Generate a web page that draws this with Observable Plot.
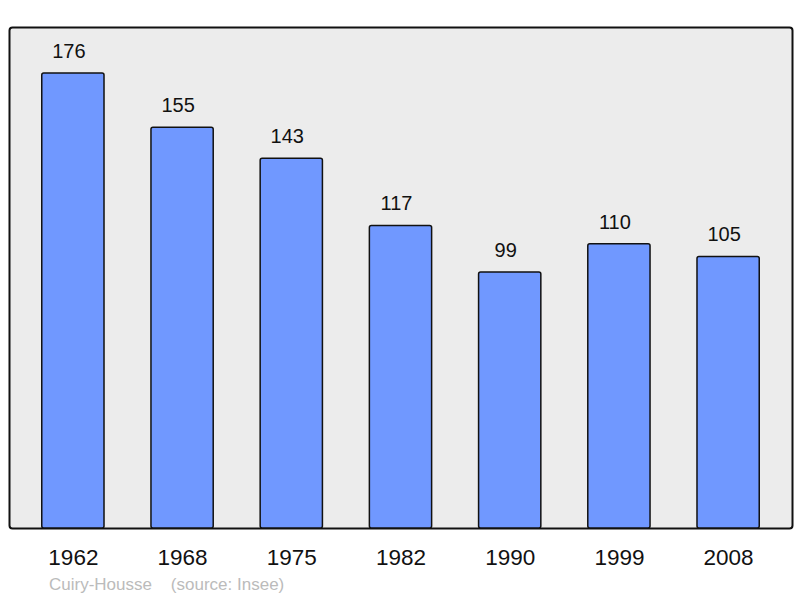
<!DOCTYPE html>
<html><head><meta charset="utf-8">
<script src="https://cdn.jsdelivr.net/npm/d3@7"></script>
<script src="https://cdn.jsdelivr.net/npm/@observablehq/plot@0.6"></script>
<style>
body{margin:0;background:#fff;font-family:"Liberation Sans",Arial,sans-serif;}
#cap{position:absolute;left:49px;top:575px;font-size:17px;color:#bbbbbb;white-space:pre;}
</style></head>
<body><div id="chart"></div><div id="cap">Cuiry-Housse    (source: Insee)</div>
<script>
const years = ["1962","1968","1975","1982","1990","1999","2008"];
const population = [176,155,143,117,99,110,105];
const data = years.map((y,i)=>({year:y, pop:population[i]}));
const chart = Plot.plot({
  width: 800, height: 598,
  marginTop: 27, marginBottom: 70, marginLeft: 9, marginRight: 8,
  style: {fontFamily: "'Liberation Sans', Arial, sans-serif", background: "#fff"},
  x: {domain: years, paddingInner: 0.43, paddingOuter: 0.30, round: false, label: null, tickSize: 0, tickPadding: 20},
  y: {domain: [0, 193.8], axis: null},
  marks: [
    Plot.frame({fill: "#ececec", stroke: "#111", strokeWidth: 2, rx: 3}),
    Plot.barY(data, {x: "year", y: "pop", fill: "#7098ff", stroke: "#111", strokeWidth: 1.5, rx: 2}),
    Plot.text(data, {x: "year", y: "pop", text: d => String(d.pop), dy: -22, dx: -4.5, fontSize: 20, fill: "#111"}),
    Plot.axisX({fontSize: 22.5, tickSize: 0, tickPadding: 21, color: "#111", label: null})
  ]
});
document.getElementById("chart").appendChild(chart);
</script></body></html>
